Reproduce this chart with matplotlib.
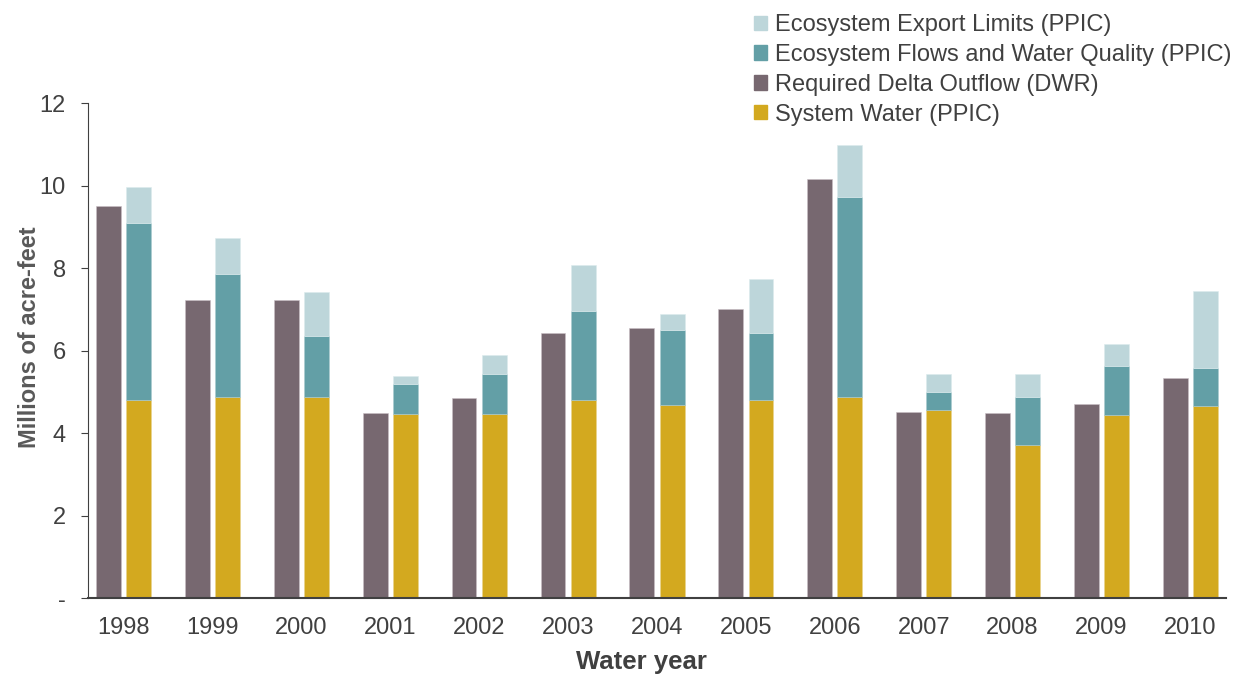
import numpy as np
import matplotlib
matplotlib.use('Agg')
import matplotlib.pyplot as plt
from matplotlib.patches import Patch

plt.rcParams['font.family'] = ['Liberation Sans', 'DejaVu Sans']

# data (millions of acre-feet)
years = ['1998', '1999', '2000', '2001', '2002', '2003', '2004',
         '2005', '2006', '2007', '2008', '2009', '2010']
delta_outflow = [9.51, 7.22, 7.24, 4.50, 4.85, 6.44, 6.54, 7.00, 10.16, 4.51, 4.48, 4.70, 5.33]
system_water = [4.81, 4.87, 4.87, 4.47, 4.46, 4.81, 4.69, 4.81, 4.87, 4.56, 3.71, 4.44, 4.66]
# cumulative tops of the stacked bar
flows_top = [9.10, 7.86, 6.35, 5.18, 5.44, 6.95, 6.49, 6.42, 9.72, 4.99, 4.87, 5.62, 5.58]
export_top = [9.98, 8.73, 7.43, 5.38, 5.89, 8.07, 6.88, 7.73, 10.99, 5.43, 5.43, 6.16, 7.44]

flows = np.array(flows_top) - np.array(system_water)
export = np.array(export_top) - np.array(flows_top)

c_export = '#bdd6da'
c_flows = '#639fa6'
c_dwr = '#776870'
c_sys = '#d3a91f'
txt = '#404040'

fig = plt.figure(figsize=(12.39, 6.75), dpi=100)
ax = fig.add_axes([0.071, 0.114, 0.9185, 0.733])

x = np.arange(len(years))
w = 0.28
off = 0.17
ax.bar(x - off, delta_outflow, w, color=c_dwr, edgecolor='#c9bfc5', linewidth=0.4)
ax.bar(x + off, system_water, w, color=c_sys, edgecolor='#e8d38f', linewidth=0.4)
ax.bar(x + off, flows, w, bottom=system_water, color=c_flows, edgecolor='#a9cbcf', linewidth=0.4)
ax.bar(x + off, export, w, bottom=flows_top, color=c_export, edgecolor='#dcebed', linewidth=0.4)

ax.set_xlim(-0.4, 12.4)
ax.set_ylim(0, 12)
ax.set_yticks([0, 2, 4, 6, 8, 10, 12])
ax.set_yticklabels(['-', '2', '4', '6', '8', '10', '12'])
ax.set_xticks(x)
ax.set_xticklabels(years)

for s in ['top', 'right']:
    ax.spines[s].set_visible(False)
ax.spines['left'].set_color('#404040')
ax.spines['bottom'].set_color('#404040')
ax.spines['bottom'].set_linewidth(1.5)
ax.tick_params(axis='y', length=5, color='#404040', labelsize=17, labelcolor=txt, pad=11)
ax.tick_params(axis='x', length=0, labelsize=17, labelcolor=txt, pad=14)

fig.text(30 / 1239, 0.5 * (0.114 + 0.847) + 0.02, 'Millions of acre-feet', rotation=90,
         ha='center', va='center', fontsize=17, fontweight='bold', color='#595959')
fig.text(641 / 1239, 1 - 662 / 675, 'Water year', ha='center', va='center',
         fontsize=18.5, fontweight='bold', color=txt)

handles = [Patch(color=c_export), Patch(color=c_flows), Patch(color=c_dwr), Patch(color=c_sys)]
labels = ['Ecosystem Export Limits (PPIC)', 'Ecosystem Flows and Water Quality (PPIC)',
          'Required Delta Outflow (DWR)', 'System Water (PPIC)']
fig.legend(handles, labels, loc='upper left', bbox_to_anchor=(0.597, 1.0), frameon=False,
           fontsize=17, labelcolor=txt, handlelength=0.55, handleheight=0.55,
           handletextpad=0.35, labelspacing=0.33, borderaxespad=0.2)

fig.savefig('out.png', dpi=100)
